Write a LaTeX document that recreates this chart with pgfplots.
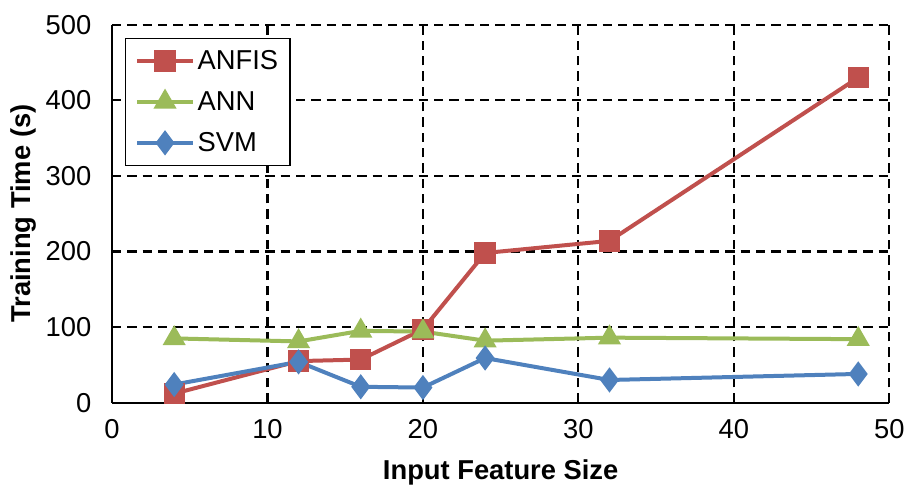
\documentclass[border=0pt]{standalone}
\usepackage{fontspec}
\setmainfont{Liberation Sans}
\usepackage{pgfplots}
\pgfplotsset{compat=1.18}

\definecolor{anfisred}{RGB}{192,80,77}
\definecolor{anngreen}{RGB}{155,187,89}
\definecolor{svmblue}{RGB}{79,129,189}

\begin{document}
\begin{tikzpicture}[x=1pt,y=1pt]
% fix the page to the full frame
\path[use as bounding box] (0,0) rectangle (679.5,364.5);
\begin{axis}[
  at={(84pt,62.5pt)}, anchor=south west,
  scale only axis,
  width=583pt, height=283.5pt,
  xmin=0, xmax=50, ymin=0, ymax=500,
  xtick={0,10,...,50}, ytick={0,100,...,500},
  /pgf/number format/assume math mode=true,
  tick label style={font=\fontsize{20.5}{24}\selectfont},
  xticklabel style={yshift=-9pt},
  yticklabel style={xshift=-12pt},
  major tick length=0pt,
  grid=major,
  major grid style={black, line width=1.6pt, dash pattern=on 7pt off 4.5pt},
  axis lines=left,
  axis line style={-, line width=1.6pt, black},
  xlabel={\textbf{Input Feature Size}},
  ylabel={\textbf{Training Time (s)}},
  label style={font=\fontsize{20.5}{24}\selectfont},
  xlabel style={yshift=-9pt},
  ylabel style={yshift=0pt},
  legend style={
    at={(rel axis cs:0.0167,0.9656)}, anchor=north west,
    draw=black, line width=1.1pt, fill=white,
    font=\fontsize{20.5}{24}\selectfont,
    row sep=11pt, inner xsep=7pt, inner ysep=7pt,
    cells={anchor=west},
  },
  legend image code/.code={
    \draw[#1, mark repeat=2, mark phase=2] plot coordinates {(0pt,0pt) (21pt,0pt) (42pt,0pt)};
  },
  every axis plot/.append style={line width=3pt},
]
\addplot[color=anfisred, mark=square*, mark size=6.5pt, mark options={solid}]
  coordinates {(4,12) (12,55) (16,57) (20,97) (24,198) (32,214) (48,430)};
\addlegendentry{ANFIS}
\addplot[color=anngreen, mark=triangle*, mark size=7pt, mark options={solid}]
  coordinates {(4,85) (12,81) (16,95) (20,94) (24,82) (32,86) (48,84)};
\addlegendentry{ANN}
\addplot[color=svmblue, mark=diamond*, mark size=7pt, mark options={solid}]
  coordinates {(4,24) (12,54) (16,21) (20,20) (24,59) (32,30) (48,38)};
\addlegendentry{SVM}
\end{axis}
\end{tikzpicture}
\end{document}
